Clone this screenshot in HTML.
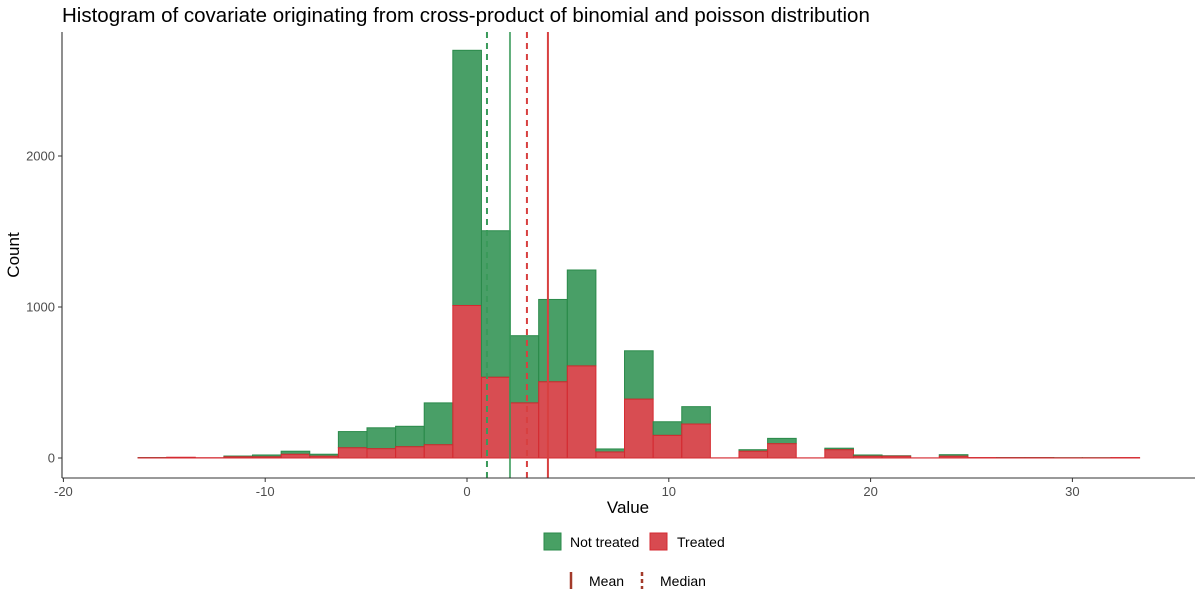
<!DOCTYPE html>
<html><head><meta charset="utf-8"><style>
body{margin:0;background:#fff;font-family:"Liberation Sans",sans-serif}
svg text{font-family:"Liberation Sans",sans-serif}
</style></head><body>
<svg width="1200" height="600" viewBox="0 0 1200 600">
<text x="62" y="22" font-size="20.5" fill="#000">Histogram of covariate originating from cross-product of binomial and poisson distribution</text>
<g id="plot"></g>
<line x1="62" y1="32" x2="62" y2="478" stroke="#333" stroke-width="1.1"/>
<line x1="62" y1="478" x2="1195" y2="478" stroke="#333" stroke-width="1.1"/>
<g id="ticks"></g>
<text x="628" y="513" font-size="17" text-anchor="middle">Value</text>
<text transform="translate(19,255) rotate(-90)" font-size="17" text-anchor="middle">Count</text>
<g>
<g><rect x="544" y="533" width="17" height="17" fill="rgb(72,160,100)" stroke="#2a8a4a"/><text x="570" y="547" font-size="14">Not treated</text></g>
<g><rect x="650" y="533" width="17" height="17" fill="rgb(216,74,80)" stroke="#d42a30"/><text x="677" y="547" font-size="14">Treated</text></g>
</g>
<g>
<g><line x1="571" y1="572" x2="571" y2="589" stroke="#a33a2a" stroke-width="2.5"/><text x="589" y="586" font-size="14">Mean</text></g>
<g><line x1="642" y1="572" x2="642" y2="589" stroke="#a33a2a" stroke-width="2.5" stroke-dasharray="4,3"/><text x="660" y="586" font-size="14">Median</text></g>
</g>
</svg>
<script>
const binStart = -16.3;
const binWidth = 1.418;
const totalCounts = [3,5,2,13,20,45,25,175,200,210,365,2700,1505,810,1050,1245,60,710,240,340,1,55,130,1,65,20,15,1,22,3,3,3,2,2,3];
const treatedCounts = [2,5,2,8,8,25,12,68,62,75,88,1010,535,365,505,610,40,390,150,225,1,45,95,1,55,12,12,1,12,3,2,2,1,1,3];
const refValues = [0.99,2.13,2.97,4.01];
const refNames = ['median-not-treated','mean-not-treated','median-treated','mean-treated'];
const xTicks = [-20,-10,0,10,20,30];
const yTicks = [0,1000,2000];
const NS='http://www.w3.org/2000/svg';
const xs = v => 467 + (v)*20.18;
const ys = c => 458 - c*0.151;
const plot=document.getElementById('plot');
function mk(tag,attrs){const e=document.createElementNS(NS,tag);for(const k in attrs)e.setAttribute(k,attrs[k]);return e;}
totalCounts.forEach((t,i)=>{
  const x0=xs(binStart+i*binWidth), x1=xs(binStart+(i+1)*binWidth);
  const tr=treatedCounts[i];
  const g=mk('rect',{x:x0,y:ys(t),width:x1-x0,height:ys(tr)-ys(t),fill:'rgba(46,145,80,0.87)',stroke:'#2a8a4a','stroke-width':1});
  
  
  plot.appendChild(g);
  const r=mk('rect',{x:x0,y:ys(tr),width:x1-x0,height:ys(0)-ys(tr),fill:'rgba(210,50,56,0.87)',stroke:'#d42a30','stroke-width':1});
  
  
  plot.appendChild(r);
});
const refCols=['#3a9a5a','#3a9a5a','#d84040','#d84040'];
refValues.forEach((v,i)=>{
  const dashed=i%2===0;
  const l=mk('line',{x1:xs(v),x2:xs(v),y1:32,y2:478,stroke:refCols[i],'stroke-width':dashed?2:2,'stroke-dasharray':dashed?'6,5':'none','stroke-opacity':i===1?0.8:1});
  
  
  plot.appendChild(l);
});
const tk=document.getElementById('ticks');
xTicks.forEach(v=>{
  const l=mk('line',{x1:xs(v),x2:xs(v),y1:478,y2:482,stroke:'#333'});
  
  
  tk.appendChild(l);
  const t=mk('text',{x:xs(v),y:496,'font-size':13,fill:'#4d4d4d','text-anchor':'middle'});
  t.textContent=v;
  
  
  tk.appendChild(t);
});
yTicks.forEach(v=>{
  const l=mk('line',{x1:58,x2:62,y1:ys(v),y2:ys(v),stroke:'#333'});
  
  
  tk.appendChild(l);
  const t=mk('text',{x:55,y:ys(v)+4.5,'font-size':13,fill:'#4d4d4d','text-anchor':'end'});
  t.textContent=v;
  
  
  tk.appendChild(t);
});
</script>
</body></html>
